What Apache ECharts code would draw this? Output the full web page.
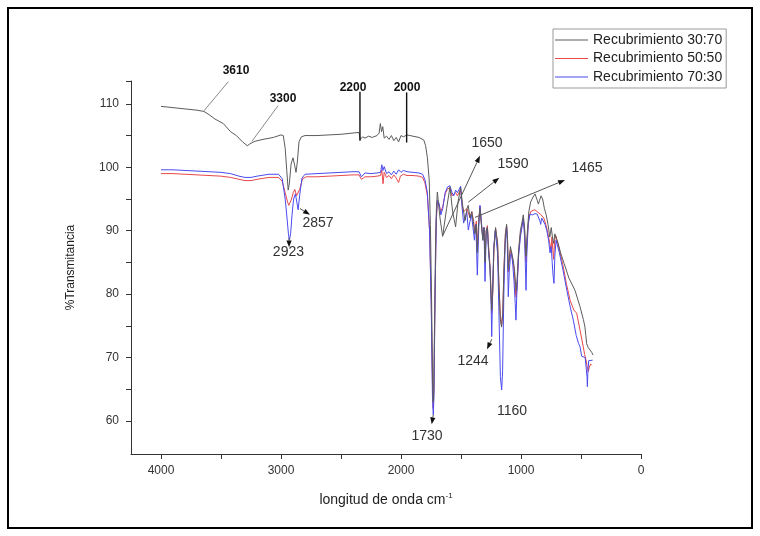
<!DOCTYPE html>
<html>
<head>
<meta charset="utf-8">
<script src="https://cdn.jsdelivr.net/npm/echarts@6/dist/echarts.min.js"></script>
<style>
  html, body { margin: 0; padding: 0; background: #fff; }
  #chart { width: 760px; height: 536px; }
</style>
</head>
<body>
<div id="chart"></div>
<script>
// FTIR spectra of the coatings: [wavenumber cm-1, % transmittance]
const seriesNames = ['Recubrimiento 30:70', 'Recubrimiento 50:50', 'Recubrimiento 70:30'];

const spectrum3070 = [
  [4000,109.6],[3900,109.4],[3800,109.2],[3700,109.0],[3642,108.8],[3600,108.3],[3550,107.6],[3481,106.9],
  [3420,105.6],[3372,105.0],[3320,104.0],[3281,103.4],[3250,103.8],[3217,104.1],[3150,104.4],[3064,104.7],
  [3000,105.1],[2981,105.0],[2965,103.0],[2952,99.5],[2940,96.4],[2930,97.5],[2916,100.5],[2900,101.5],
  [2886,100.3],[2875,99.2],[2864,100.8],[2850,104.0],[2830,104.8],[2800,105.0],[2700,105.0],[2600,105.1],
  [2500,105.2],[2400,105.4],[2350,105.5],[2340,104.4],[2320,104.8],[2300,104.6],[2270,104.9],[2240,104.7],
  [2200,105.0],[2182,105.4],[2172,106.9],[2162,105.6],[2152,106.4],[2140,104.6],[2120,104.9],[2100,104.4],
  [2080,105.0],[2060,104.2],[2040,104.7],[2020,104.0],[2000,105.0],[1980,104.8],[1950,105.1],[1900,104.9],
  [1850,104.7],[1810,104.3],[1795,103.4],[1780,101.5],[1765,98.0],[1755,91.0],[1745,79.0],[1738,68.0],
  [1732,63.0],[1727,65.0],[1720,76.0],[1712,88.0],[1705,93.5],[1697,96.1],[1675,92.0],[1653,89.1],
  [1620,93.5],[1592,96.9],[1570,93.0],[1545,90.6],[1525,94.5],[1503,96.8],[1485,93.8],[1470,92.0],
  [1465,91.6],[1450,93.5],[1440,94.0],[1425,92.0],[1410,93.0],[1395,91.0],[1385,89.5],[1372,91.0],
  [1364,86.5],[1352,91.5],[1342,93.5],[1330,91.0],[1318,88.5],[1308,90.5],[1300,85.0],[1290,90.0],
  [1280,90.5],[1270,87.0],[1258,84.0],[1250,80.0],[1244,77.5],[1236,80.5],[1225,87.5],[1212,90.5],
  [1205,90.6],[1195,88.0],[1185,82.0],[1172,76.0],[1162,74.8],[1152,77.0],[1142,84.0],[1130,89.5],
  [1120,91.0],[1112,88.5],[1106,84.0],[1098,85.5],[1088,87.5],[1078,86.5],[1066,85.5],[1055,84.0],
  [1045,81.5],[1040,80.5],[1032,82.5],[1020,87.0],[1005,90.0],[990,91.5],[981,92.5],[970,90.5],
  [962,87.0],[958,86.0],[950,89.0],[935,93.0],[920,94.5],[900,95.3],[883,95.8],[865,94.8],
  [855,94.2],[845,94.8],[833,95.5],[820,95.0],[805,93.5],[790,92.5],[775,91.0],[760,89.0],
  [748,90.5],[738,89.0],[728,88.0],[718,89.5],[705,89.5],[690,88.0],[670,86.5],[640,84.8],
  [600,82.5],[550,80.6],[508,78.0],[480,76.0],[467,74.8],[460,73.5],[453,72.2],[440,71.6],
  [425,71.2],[410,70.8],[400,70.4]
];

const spectrum5050 = [
  [4000,99.0],[3900,99.0],[3800,98.9],[3700,98.8],[3600,98.7],[3500,98.6],[3420,98.4],[3350,98.1],
  [3300,97.9],[3250,97.9],[3200,98.1],[3100,98.4],[3020,98.4],[2990,97.8],[2965,96.0],[2945,94.5],
  [2935,94.0],[2925,94.0],[2912,95.0],[2898,96.0],[2885,96.5],[2870,95.5],[2857,95.3],[2845,96.5],
  [2820,98.2],[2790,98.5],[2700,98.5],[2600,98.6],[2500,98.7],[2400,98.8],[2350,98.8],[2330,98.1],
  [2300,98.5],[2250,98.5],[2200,98.6],[2170,98.7],[2160,99.6],[2150,97.4],[2140,99.2],[2120,98.4],
  [2100,98.7],[2080,98.2],[2060,98.8],[2040,98.3],[2020,97.6],[2005,98.6],[1980,98.9],[1950,98.7],
  [1900,98.7],[1850,98.6],[1820,98.4],[1800,97.5],[1780,95.5],[1762,90.0],[1748,79.0],[1738,66.0],
  [1732,62.0],[1726,64.5],[1716,80.0],[1706,91.5],[1697,94.5],[1682,94.0],[1668,93.0],[1652,93.8],
  [1632,95.8],[1612,96.6],[1592,96.7],[1575,95.5],[1560,95.2],[1545,96.0],[1530,95.5],[1515,95.5],
  [1503,96.5],[1490,94.0],[1478,93.0],[1465,92.8],[1450,93.5],[1440,93.8],[1425,92.0],[1410,93.0],
  [1395,91.5],[1385,90.0],[1372,91.5],[1364,87.0],[1352,91.8],[1342,93.8],[1330,91.0],[1318,89.0],
  [1308,90.5],[1300,85.5],[1290,90.0],[1280,90.8],[1270,87.5],[1258,84.5],[1250,80.5],[1244,77.0],
  [1236,80.0],[1225,87.5],[1212,90.4],[1205,90.5],[1195,88.0],[1185,82.0],[1172,76.5],[1162,75.0],
  [1152,77.0],[1142,84.0],[1130,89.5],[1120,90.8],[1112,88.5],[1106,83.5],[1098,85.5],[1088,87.0],
  [1078,86.0],[1066,85.0],[1055,83.5],[1045,80.0],[1040,79.5],[1032,81.5],[1020,86.5],[1005,89.5],
  [990,91.0],[981,91.8],[970,90.0],[962,86.0],[958,85.0],[950,88.5],[935,92.0],[920,93.0],
  [900,93.2],[883,93.3],[865,93.0],[850,92.8],[838,92.6],[825,92.5],[810,92.0],[790,90.8],
  [775,89.5],[760,88.0],[750,87.0],[742,89.0],[735,87.0],[728,85.5],[720,88.5],[710,89.2],
  [700,89.0],[680,87.0],[650,84.5],[620,81.5],[590,79.0],[560,77.5],[536,77.0],[510,74.5],
  [481,71.7],[470,70.5],[458,69.6],[448,68.5],[439,67.8],[430,68.5],[420,69.0],[411,68.8]
];

const spectrum7030 = [
  [4000,99.6],[3900,99.6],[3800,99.5],[3700,99.4],[3600,99.3],[3500,99.2],[3420,99.0],[3350,98.6],
  [3300,98.4],[3250,98.4],[3200,98.6],[3100,98.9],[3020,98.9],[2990,98.2],[2965,95.0],[2950,92.0],
  [2938,89.5],[2930,88.5],[2920,89.5],[2908,92.5],[2895,95.0],[2880,95.8],[2868,94.5],[2857,93.3],
  [2845,95.5],[2825,98.3],[2800,98.9],[2700,99.0],[2600,99.1],[2500,99.2],[2400,99.3],[2350,99.3],
  [2330,98.5],[2300,99.1],[2250,99.0],[2200,99.1],[2170,99.2],[2160,100.4],[2150,99.5],[2140,100.1],
  [2120,99.0],[2100,99.3],[2080,98.8],[2060,99.4],[2040,98.9],[2020,99.6],[2000,99.2],[1980,99.5],
  [1950,99.3],[1900,99.2],[1850,99.1],[1820,98.9],[1800,98.0],[1780,96.0],[1762,90.0],[1748,78.0],
  [1738,64.0],[1731,61.0],[1726,63.5],[1716,80.0],[1706,92.0],[1697,94.8],[1682,94.3],[1668,92.5],
  [1652,93.5],[1632,96.0],[1612,96.9],[1592,97.1],[1575,96.0],[1560,95.5],[1545,96.4],[1530,96.0],
  [1515,96.0],[1503,97.0],[1490,93.5],[1478,91.2],[1465,91.5],[1452,93.0],[1439,90.1],[1425,91.5],
  [1412,92.5],[1400,90.5],[1388,88.5],[1376,91.0],[1364,83.0],[1352,90.5],[1342,94.0],[1330,91.5],
  [1318,88.5],[1308,90.5],[1300,82.0],[1290,89.5],[1280,90.5],[1270,86.5],[1258,84.0],[1250,79.0],
  [1244,73.3],[1238,79.0],[1228,87.0],[1215,90.0],[1205,90.1],[1195,86.5],[1185,78.0],[1172,67.0],
  [1161,64.9],[1153,68.0],[1143,80.0],[1132,88.0],[1120,90.6],[1114,88.0],[1106,79.6],[1098,83.5],
  [1088,86.0],[1078,86.6],[1068,84.5],[1058,82.0],[1048,78.5],[1042,75.9],[1035,80.0],[1020,86.0],
  [1005,89.0],[990,90.8],[981,91.9],[970,89.0],[963,84.0],[958,80.6],[952,86.0],[940,91.0],
  [925,92.6],[905,92.5],[883,92.7],[865,92.6],[850,92.3],[842,91.5],[836,91.0],[828,92.0],
  [815,91.8],[800,91.0],[785,90.0],[770,88.5],[758,86.5],[748,87.5],[740,85.0],[733,83.0],
  [725,81.7],[718,86.0],[708,88.5],[698,88.3],[680,86.5],[650,83.8],[620,80.8],[590,78.0],
  [564,75.9],[540,73.5],[520,72.2],[508,71.7],[494,70.2],[480,70.0],[465,70.0],[455,69.8],
  [450,67.0],[447,65.4],[443,67.5],[436,69.5],[420,69.8],[403,69.6]
];

// Axis ticks and labels
const xTickValues = [0, 500, 1000, 1500, 2000, 2500, 3000, 3500, 4000];
const xLabelValues = [0, 1000, 2000, 3000, 4000];
const yTickValues = [60, 65, 70, 75, 80, 85, 90, 95, 100, 105, 110, 113.6];
const yLabelValues = [60, 70, 80, 90, 100, 110];

// Band annotations: [text, wavenumber, %T]
const regionLabels = [['3610', 3375, 115.2], ['3300', 2983, 110.8], ['2200', 2400, 112.6], ['2000', 1950, 112.6]];
const bandLabels = [
  ['2923', 2938, 86.6], ['2857', 2692, 91.2], ['1650', 1283, 103.8], ['1590', 1067, 100.5],
  ['1465', 450, 99.8], ['1244', 1400, 69.4], ['1160', 1075, 61.6], ['1730', 1783, 57.6]
];
// Leader segments: [x1, y1, x2, y2]
const leaderLines = [[3439, 113.5, 3642, 108.9], [3025, 109.7, 3242, 104.1]];
const markerLines = [[2342, 111.9, 2342, 104.2], [1953, 111.8, 1953, 103.9]];
const arrowLines = [
  [2933, 88.9, 2933, 87.4], [2842, 93.5, 2758, 92.5], [1650, 89.3, 1342, 101.8],
  [1439, 94.5, 1181, 98.35], [1383, 92.1, 633, 98.0], [1244, 72.9, 1283, 71.3], [1731, 61.0, 1744, 59.5]
];

const FONT = '"Liberation Sans", Arial, sans-serif';
const chart = echarts.init(document.getElementById('chart'), null, { renderer: 'canvas' });

function segmentItem(color, width) {
  return function (params, api) {
    const a = api.coord([api.value(0), api.value(1)]);
    const b = api.coord([api.value(2), api.value(3)]);
    return { type: 'line', shape: { x1: a[0], y1: a[1], x2: b[0], y2: b[1] },
             style: { stroke: color, lineWidth: width } };
  };
}

function arrowItem(params, api) {
  const a = api.coord([api.value(0), api.value(1)]);
  const b = api.coord([api.value(2), api.value(3)]);
  const dx = b[0] - a[0], dy = b[1] - a[1];
  const len = Math.hypot(dx, dy) || 1;
  const ux = dx / len, uy = dy / len;
  const hl = Math.min(7, len * 0.7), hw = 2.6;
  const base = [b[0] - ux * hl, b[1] - uy * hl];
  return { type: 'group', children: [
    { type: 'line', shape: { x1: a[0], y1: a[1], x2: base[0], y2: base[1] }, style: { stroke: '#555', lineWidth: 1 } },
    { type: 'polygon', shape: { points: [b, [base[0] - uy * hw, base[1] + ux * hw], [base[0] + uy * hw, base[1] - ux * hw]] },
      style: { fill: '#111' } }
  ] };
}

function labelItem(list, size, weight, color) {
  return function (params, api) {
    const p = api.coord([api.value(0), api.value(1)]);
    return { type: 'text', x: p[0], y: p[1],
      style: { text: list[params.dataIndex][0], fontSize: size, fontWeight: weight, fontFamily: FONT,
               fill: color, align: 'center', verticalAlign: 'middle' } };
  };
}

const lineStyleBase = { width: 1 };

chart.setOption({
  backgroundColor: '#fff',
  animation: false,
  grid: { left: 131, right: 119, top: 81, bottom: 82 },
  legend: {
    data: seriesNames,
    orient: 'vertical',
    left: 553, top: 29,
    padding: [3, 4, 3, 2],
    itemGap: 2.5,
    itemWidth: 33, itemHeight: 1.2,
    icon: 'rect',
    borderColor: '#999', borderWidth: 1,
    textStyle: { fontFamily: FONT, fontSize: 14, color: '#222', lineHeight: 16 }
  },
  xAxis: {
    type: 'value', min: 0, max: 4250, inverse: true, interval: 500,
    name: '{a|longitud de onda cm}{s|-1}',
    nameLocation: 'middle', nameGap: 38,
    nameTextStyle: { rich: {
      a: { fontFamily: FONT, fontSize: 14, color: '#222', lineHeight: 16 },
      s: { fontFamily: FONT, fontSize: 8, color: '#222', lineHeight: 16, padding: [0, 0, 9, 0] }
    } },
    axisLine: { show: true, onZero: false, lineStyle: { color: '#333', width: 1 } },
    axisTick: { show: true, inside: false, length: 5, customValues: xTickValues, lineStyle: { color: '#333' } },
    axisLabel: { customValues: xLabelValues, margin: 11, fontFamily: FONT, fontSize: 12, color: '#333',
                 formatter: v => String(v) },
    splitLine: { show: false }
  },
  yAxis: {
    type: 'value', min: 54.8, max: 113.6,
    name: '%Transmitancia', nameLocation: 'middle', nameRotate: 90, nameGap: 54,
    nameTextStyle: { fontFamily: FONT, fontSize: 12, color: '#222' },
    axisLine: { show: true, onZero: false, lineStyle: { color: '#333', width: 1 } },
    axisTick: { show: true, inside: false, length: 5, customValues: yTickValues, lineStyle: { color: '#333' } },
    axisLabel: { customValues: yLabelValues, margin: 12, fontFamily: FONT, fontSize: 12, color: '#333',
                 formatter: v => String(v) },
    splitLine: { show: false }
  },
  graphic: [{
    type: 'rect', shape: { x: 8, y: 8, width: 744, height: 520 },
    style: { fill: 'none', stroke: '#000', lineWidth: 2 }, z: 100
  }],
  series: [
    { name: seriesNames[1], type: 'line', data: spectrum5050, showSymbol: false, color: '#e8484a',
      lineStyle: Object.assign({}, lineStyleBase), z: 2 },
    { name: seriesNames[2], type: 'line', data: spectrum7030, showSymbol: false, color: '#4b4bf0',
      lineStyle: Object.assign({}, lineStyleBase), z: 3 },
    { name: seriesNames[0], type: 'line', data: spectrum3070, showSymbol: false, color: '#5c5c5c',
      lineStyle: Object.assign({}, lineStyleBase), z: 4 },
    { type: 'custom', clip: false, silent: true, z: 5, data: leaderLines,
      encode: { x: [0, 2], y: [1, 3] }, renderItem: segmentItem('#8a8a8a', 1) },
    { type: 'custom', clip: false, silent: true, z: 5, data: markerLines,
      encode: { x: [0, 2], y: [1, 3] }, renderItem: segmentItem('#111', 1.4) },
    { type: 'custom', clip: false, silent: true, z: 5, data: arrowLines,
      encode: { x: [0, 2], y: [1, 3] }, renderItem: arrowItem },
    { type: 'custom', clip: false, silent: true, z: 6, data: regionLabels.map(r => [r[1], r[2]]),
      encode: { x: 0, y: 1 }, renderItem: labelItem(regionLabels, 12, 'bold', '#111') },
    { type: 'custom', clip: false, silent: true, z: 6, data: bandLabels.map(r => [r[1], r[2]]),
      encode: { x: 0, y: 1 }, renderItem: labelItem(bandLabels, 14, 'normal', '#333') }
  ]
});
</script>
</body>
</html>
